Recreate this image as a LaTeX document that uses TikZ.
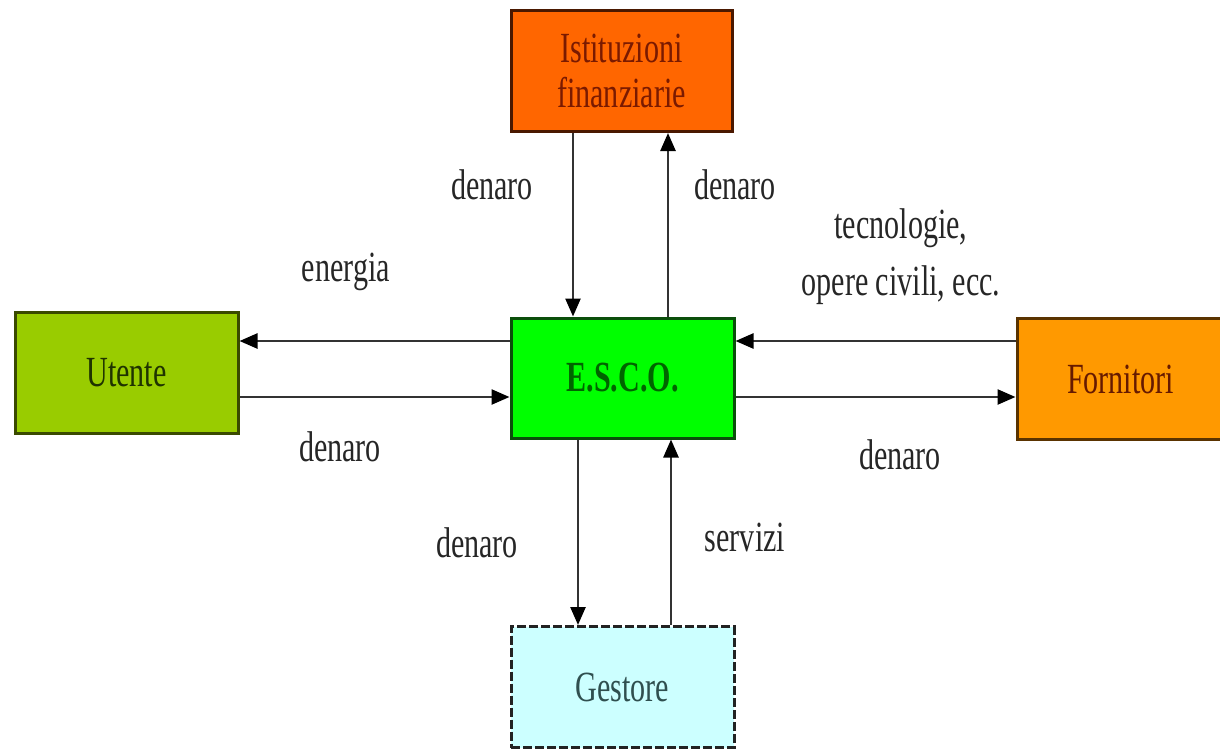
\documentclass[tikz,border=0pt]{standalone}
\usepackage{fontspec}
\setmainfont{Liberation Serif}[FakeStretch=0.7]
\usetikzlibrary{arrows.meta}
\definecolor{instfill}{HTML}{FF6600}
\definecolor{instline}{HTML}{4A1800}
\definecolor{insttext}{HTML}{7A1A00}
\definecolor{escofill}{HTML}{00FF00}
\definecolor{escoline}{HTML}{0B4F0B}
\definecolor{escotext}{HTML}{006400}
\definecolor{utfill}{HTML}{99CC00}
\definecolor{utline}{HTML}{3A4A00}
\definecolor{uttext}{HTML}{1F3300}
\definecolor{forfill}{HTML}{FF9900}
\definecolor{forline}{HTML}{5A3300}
\definecolor{fortext}{HTML}{661A00}
\definecolor{gesfill}{HTML}{CCFFFF}
\definecolor{gesline}{HTML}{222222}
\definecolor{gestext}{HTML}{2F4F4F}
\definecolor{arrcol}{HTML}{333333}
\tikzset{
  box/.style={draw, line width=3pt, minimum width=223pt, minimum height=121pt,
    align=center, inner sep=0pt, font=\fontsize{43}{45}\selectfont},
  arr/.style={draw=arrcol, line width=2.5pt, -{Triangle[length=18pt,width=15pt,color=black]}},
  lbl/.style={align=center, inner sep=0pt, text=black!85, font=\fontsize{43}{57}\selectfont}
}
\begin{document}
\begin{tikzpicture}[x=1pt,y=-1pt]
\useasboundingbox (0,0) rectangle (1220,750);
\node[box, fill=instfill, draw=instline, text=insttext, minimum width=221pt] (inst) at (621.5,71) {Istituzioni\\finanziarie};
\node[box, fill=escofill, draw=escoline, text=escotext, minimum height=120pt] (esco) at (622.5,378) {\bfseries E.S.C.O.};
\node[box, fill=utfill, draw=utline, text=uttext] (utente) at (126.5,373) {Utente};
\node[box, fill=forfill, draw=forline, text=fortext, minimum width=215pt, text width=215pt] (forn) at (1124.5,379) {\hspace*{-8pt}Fornitori};
\node[box, fill=gesfill, draw=gesline, text=gestext, dashed, dash pattern=on 9pt off 3pt] (ges) at (622.5,687) {Gestore};
\coordinate (yA) at (0,341);
\coordinate (yB) at (0,397);
\coordinate (x1) at (573,0);
\coordinate (x2) at (668,0);
\coordinate (x3) at (578,0);
\coordinate (x4) at (671,0);
% vertical connectors
\draw[arr] (inst.south -| x1) -- (esco.north -| x1);
\draw[arr] (esco.north -| x2) -- (inst.south -| x2);
\draw[arr] (esco.south -| x3) -- (ges.north -| x3);
\draw[arr] (ges.north -| x4) -- (esco.south -| x4);
% horizontal connectors
\draw[arr] (esco.west |- yA) -- (utente.east |- yA);
\draw[arr] (utente.east |- yB) -- (esco.west |- yB);
\draw[arr] (forn.west |- yA) -- (esco.east |- yA);
\draw[arr] (esco.east |- yB) -- (forn.west |- yB);
% labels
\node[lbl] (l1) at (492,185) {denaro};
\node[lbl] (l2) at (735,185) {denaro};
\node[lbl] (l3) at (346,272) {energia};
\node[lbl] (l4) at (340,447) {denaro};
\node[lbl] (l5) at (901,257) {tecnologie,\\opere civili, ecc.};
\node[lbl] (l6) at (900,455) {denaro};
\node[lbl] (l7) at (477,543) {denaro};
\node[lbl] (l8) at (745,537) {servizi};
\end{tikzpicture}
\end{document}
